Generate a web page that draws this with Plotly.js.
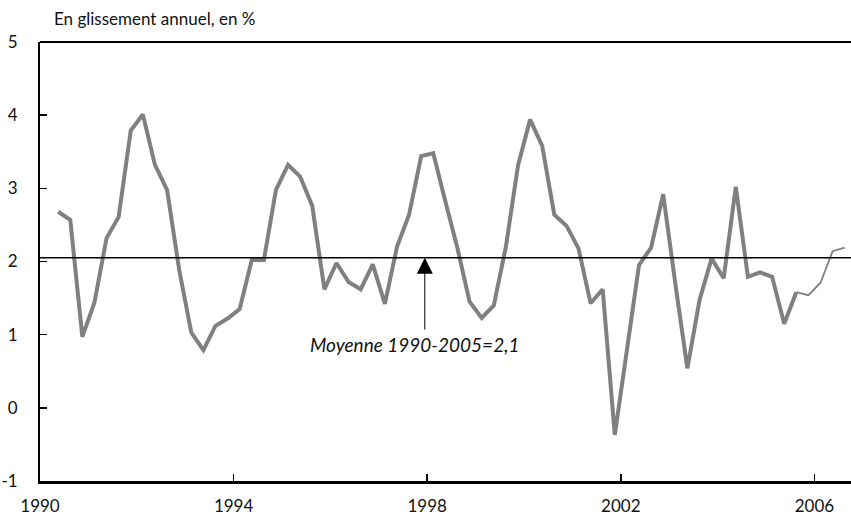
<!DOCTYPE html>
<html>
<head>
<meta charset="utf-8">
<script src="https://cdn.plot.ly/plotly-3.0.1.min.js"></script>
<style>
  html, body { margin: 0; padding: 0; background: #fff; }
  #chart { width: 851px; height: 516px; }
</style>
</head>
<body>
<div id="chart"></div>
<script>
// Quarterly series, first quarter = 1990 Q2
const startYear = 1990;
const startQuarter = 2;
const inflation = [
  2.68, 2.57, 0.97, 1.44, 2.32, 2.61, 3.79, 4.01, 3.32, 2.98,
  1.89, 1.03, 0.79, 1.12, 1.22, 1.35, 2.02, 2.02, 2.98, 3.32,
  3.16, 2.76, 1.62, 1.98, 1.72, 1.62, 1.96, 1.42, 2.20, 2.64,
  3.44, 3.48, 2.82, 2.18, 1.45, 1.23, 1.40, 2.20, 3.31, 3.94,
  3.58, 2.64, 2.49, 2.18, 1.43, 1.62, -0.37, 0.82, 1.95, 2.19,
  2.92, 1.70, 0.54, 1.47, 2.04, 1.77, 3.02, 1.79, 1.85, 1.79,
  1.15, 1.58, 1.54, 1.71, 2.14, 2.19
];
const lastObservedIndex = 61; // thin line afterwards
const meanValue = 2.05;
const meanLabel = "Moyenne 1990-2005=2,1";
const yTicks = [-1, 0, 1, 2, 3, 4, 5];
const xTicks = [1990, 1994, 1998, 2002, 2006];
const titleText = "En glissement annuel, en %";

// quarter positions (middle of each quarter)
const periods = inflation.map((_, i) => {
  const qIndex = (startQuarter - 1) + i;
  const year = startYear + Math.floor(qIndex / 4);
  const q = (qIndex % 4) + 1;
  return year + (q - 0.5) / 4;
});

const font = "Lato, 'Open Sans', sans-serif";
const grey = "#808080";

const traces = [
  {
    x: periods.slice(0, lastObservedIndex + 1),
    y: inflation.slice(0, lastObservedIndex + 1),
    type: "scatter", mode: "lines",
    line: { color: grey, width: 4 },
    hoverinfo: "skip"
  },
  {
    x: periods.slice(lastObservedIndex),
    y: inflation.slice(lastObservedIndex),
    type: "scatter", mode: "lines",
    line: { color: grey, width: 1.8 },
    hoverinfo: "skip"
  }
];

const layout = {
  width: 851, height: 516,
  margin: { l: 40, r: 0, t: 42, b: 35 },
  paper_bgcolor: "#fff", plot_bgcolor: "#fff",
  showlegend: false,
  font: { family: font, size: 17, color: "#111" },
  title: {
    text: titleText,
    font: { family: font, size: 17, color: "#111" },
    x: 54 / 851, xanchor: "left", xref: "container",
    y: 1 - 19 / 516, yanchor: "middle", yref: "container"
  },
  xaxis: {
    range: [1990, 2006.755],
    tickvals: xTicks,
    ticktext: xTicks.map(String),
    ticks: "inside", ticklen: 7, tickwidth: 1.5, tickcolor: "#000",
    showline: true, linecolor: "#000", linewidth: 3,
    showgrid: false, zeroline: false,
    ticklabelstandoff: 8,
    tickfont: { family: font, size: 17, color: "#111" },
    fixedrange: true
  },
  yaxis: {
    range: [-1, 5],
    tickvals: yTicks,
    ticktext: yTicks.map(String),
    ticks: "inside", ticklen: 7, tickwidth: 1.5, tickcolor: "#000",
    showline: true, linecolor: "#000", linewidth: 2,
    showgrid: false, zeroline: false,
    ticklabelstandoff: 17,
    tickfont: { family: font, size: 17, color: "#111" },
    fixedrange: true
  },
  shapes: [
    { type: "line", xref: "paper", yref: "paper", x0: 0, x1: 1, y0: 1, y1: 1,
      line: { color: "#000", width: 2 } },
    { type: "line", xref: "paper", yref: "y", x0: 0, x1: 1, y0: meanValue, y1: meanValue,
      line: { color: "#000", width: 1.5 } }
  ],
  annotations: [
    {
      x: 1997.95, y: meanValue, xref: "x", yref: "y",
      ax: 1997.95, ay: 1.05, axref: "x", ayref: "y",
      text: "", showarrow: true,
      arrowhead: 2, arrowsize: 3.2, arrowwidth: 1, arrowcolor: "#000",
      standoff: 0, startstandoff: 0
    },
    {
      x: 1997.73, y: 0.86, xref: "x", yref: "y",
      text: meanLabel, showarrow: false,
      xanchor: "center", yanchor: "middle",
      font: { family: font, size: 19, style: "italic", color: "#111" }
    }
  ]
};

Plotly.newPlot("chart", traces, layout, { displayModeBar: false, staticPlot: true });
</script>
</body>
</html>
